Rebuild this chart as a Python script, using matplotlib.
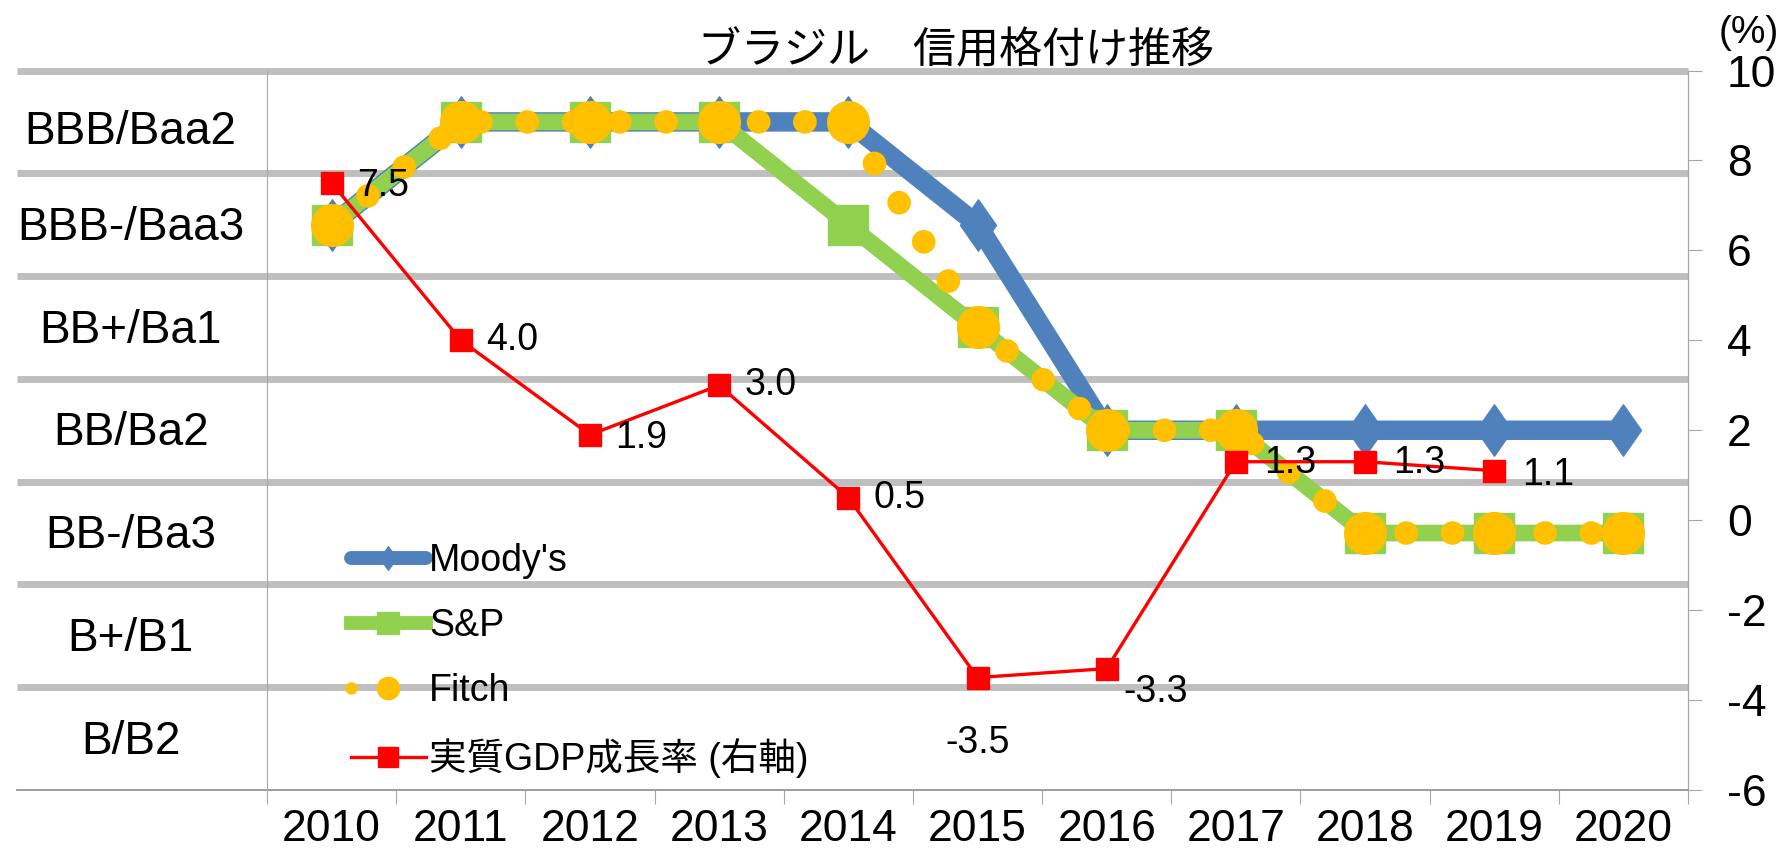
import numpy as np
import matplotlib
matplotlib.use("Agg")
import matplotlib.pyplot as plt
import matplotlib.transforms as mtransforms
from matplotlib.path import Path

plt.rcParams['font.family'] = ['Liberation Sans', 'Noto Sans CJK JP', 'DejaVu Sans']
plt.rcParams['axes.unicode_minus'] = False

years = ['2010', '2011', '2012', '2013', '2014', '2015', '2016', '2017', '2018', '2019', '2020']
rating_labels = ['B/B2', 'B+/B1', 'BB-/Ba3', 'BB/Ba2', 'BB+/Ba1', 'BBB-/Baa3', 'BBB/Baa2']

moodys = ['BBB-/Baa3', 'BBB/Baa2', 'BBB/Baa2', 'BBB/Baa2', 'BBB/Baa2', 'BBB-/Baa3',
          'BB/Ba2', 'BB/Ba2', 'BB/Ba2', 'BB/Ba2', 'BB/Ba2']
sp = ['BBB-/Baa3', 'BBB/Baa2', 'BBB/Baa2', 'BBB/Baa2', 'BBB-/Baa3', 'BB+/Ba1',
      'BB/Ba2', 'BB/Ba2', 'BB-/Ba3', 'BB-/Ba3', 'BB-/Ba3']
fitch = ['BBB-/Baa3', 'BBB/Baa2', 'BBB/Baa2', 'BBB/Baa2', 'BBB/Baa2', 'BB+/Ba1',
         'BB/Ba2', 'BB/Ba2', 'BB-/Ba3', 'BB-/Ba3', 'BB-/Ba3']
gdp = [7.5, 4.0, 1.9, 3.0, 0.5, -3.5, -3.3, 1.3, 1.3, 1.1]

# label offsets (points) for the GDP data labels
gdp_offsets = [(18, -2), (18, 0), (18, -2), (18, 0), (18, 0), (0, -47), (12, -17), (20, -1), (20, -1), (20, -3)]


def lvl(seq):
    return [rating_labels.index(r) for r in seq]


# narrow diamond like the excel one
tall_diamond = Path([(0, 1), (0.7, 0), (0, -1), (-0.7, 0), (0, 1)],
                    [Path.MOVETO, Path.LINETO, Path.LINETO, Path.LINETO, Path.CLOSEPOLY])

fig = plt.figure(figsize=(17.84, 8.63), dpi=100)
ax = fig.add_axes([0.1497, 0.0846, 0.7965, 0.8337])
ax.set_xlim(-0.5, len(years) - 0.5)
ax.set_ylim(-0.5, len(rating_labels) - 0.5)

x = np.arange(len(years))
gray = '#bfbfbf'
spine_c = '#a6a6a6'

# band separators, stretching out over the left labels
blend = mtransforms.blended_transform_factory(ax.transAxes, ax.transData)
for k in range(len(rating_labels)):
    ax.plot([-0.176, 1], [k + 0.5, k + 0.5], transform=blend, clip_on=False,
            color=gray, lw=5, zorder=0.5, solid_capstyle='butt')
ax.plot([-0.176, 1], [-0.5, -0.5], transform=blend, clip_on=False,
        color='#8c8c8c', lw=1.2, zorder=0.5)
for k, lab in enumerate(rating_labels):
    nudge = -0.1 if k == len(rating_labels) - 1 else -0.03
    ax.text(-0.096, k + nudge, lab, transform=blend, ha='center', va='center', fontsize=33)

ax.plot(x, lvl(moodys), color='#4F81BD', lw=14, marker=tall_diamond, ms=37, label="Moody's",
        zorder=2)
ax.plot(x, lvl(sp), color='#92D050', lw=12, marker='s', ms=29, label='S&P', zorder=3)
ax.plot(x, lvl(fitch), color='#FFC000', lw=17, linestyle=(0, (0.01, 1.95)),
        dash_capstyle='round', marker='o', ms=30, label='Fitch', zorder=4)

ax.set_yticks([])
ax.set_xticks(np.arange(-0.5, len(years)), labels=[''] * (len(years) + 1))
ax.set_xticks(x, labels=years, minor=True)
ax.tick_params(axis='x', which='major', length=10, color=spine_c, direction='out')
ax.tick_params(axis='x', which='minor', length=0, pad=14, labelsize=32)
for s in ['top', 'bottom']:
    ax.spines[s].set_visible(False)
ax.spines['left'].set_color(spine_c)
ax.spines['right'].set_color(spine_c)

ax2 = ax.twinx()
ax2.set_ylim(-6, 10)
ax2.set_yticks(np.arange(-6, 11, 2))
ax2.tick_params(axis='y', length=10, color=spine_c, labelsize=32, pad=18)
for s in ['top', 'bottom', 'left']:
    ax2.spines[s].set_visible(False)
ax2.spines['right'].set_color(spine_c)

xg = np.arange(len(gdp))
ax2.plot(xg, gdp, color='#FF0000', lw=2.4, marker='s', ms=16, label='実質GDP成長率 (右軸)')
for xi, v, (dx, dy) in zip(xg, gdp, gdp_offsets):
    ha = 'center' if dx == 0 else 'left'
    ax2.annotate(f'{v:.1f}', (xi, v), xytext=(dx, dy), textcoords='offset points',
                 ha=ha, va='center', fontsize=27)

h1, l1 = ax.get_legend_handles_labels()
h2, l2 = ax2.get_legend_handles_labels()
leg = ax2.legend(h1 + h2, l1 + l2, loc='lower left', bbox_to_anchor=(0.035, -0.03),
                 frameon=False, fontsize=27, handlelength=2.0, handletextpad=0.1,
                 labelspacing=0.77, numpoints=1)
hs = leg.legend_handles
hs[0].set_linewidth(10)
hs[0].set_markersize(17)
hs[0].set_solid_capstyle('round')
hs[1].set_linewidth(10)
hs[1].set_markersize(16)
hs[2].set_linewidth(9)
hs[2].set_markersize(16)
hs[2].set_linestyle((0, (0.01, 7)))
hs[3].set_markersize(14)

fig.text(0.536, 0.94, 'ブラジル　信用格付け推移', ha='center', va='center', fontsize=31)
fig.text(0.98, 0.962, '(%)', ha='center', va='center', fontsize=28)

fig.savefig('out.png', dpi=100)
